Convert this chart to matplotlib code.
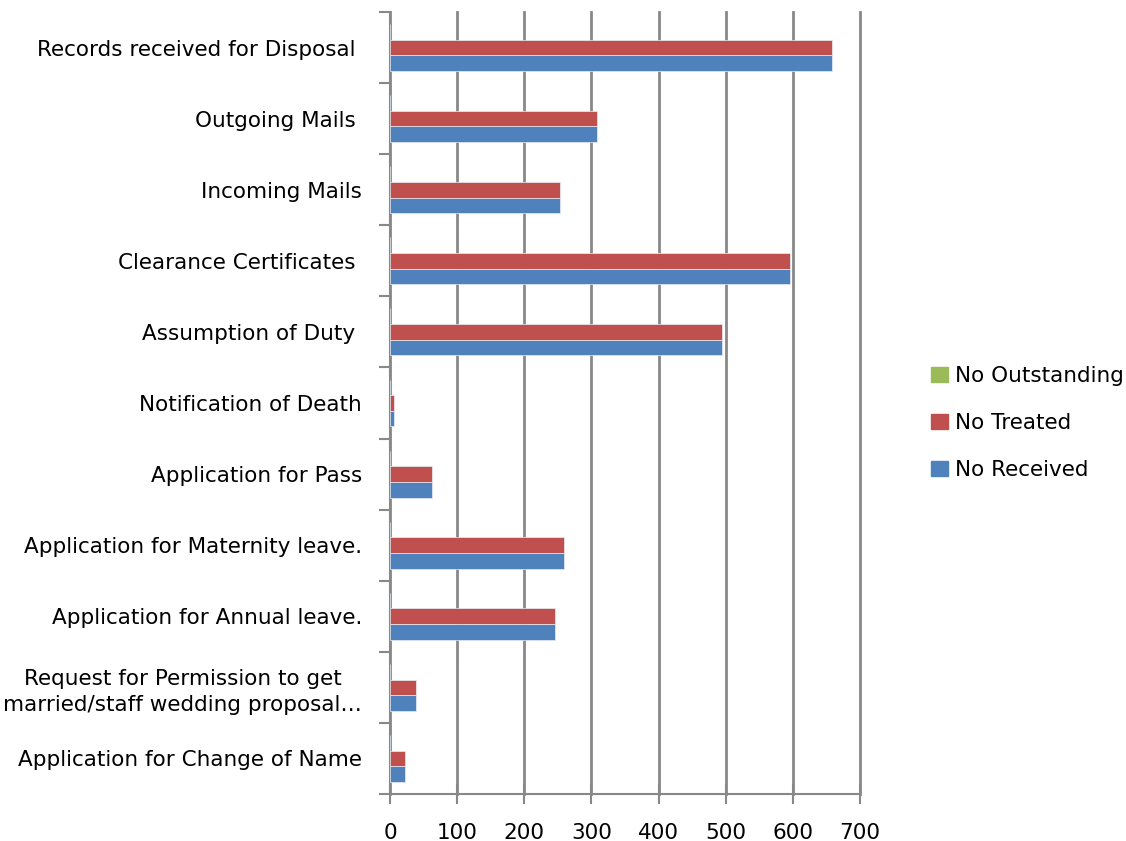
import numpy as np
import matplotlib as mpl
mpl.use('Agg')
import matplotlib.pyplot as plt
from matplotlib.patches import Patch

# categories listed bottom to top (as drawn on the y axis)
categories = [
    "Application for Change of Name",
    "Request for Permission to get\nmarried/staff wedding proposal\u2026",
    "Application for Annual leave.",
    "Application for Maternity leave.",
    "Application for Pass",
    "Notification of Death",
    "Assumption of Duty ",
    "Clearance Certificates ",
    "Incoming Mails",
    "Outgoing Mails ",
    "Records received for Disposal ",
]
no_received = [22, 38, 245, 259, 63, 6, 494, 596, 253, 309, 659]
no_treated = [22, 38, 245, 259, 63, 6, 494, 596, 253, 309, 659]
no_outstanding = [0, 0, 0, 0, 0, 0, 0, 0, 0, 0, 0]

series = [("No Received", no_received, "#4f81bd"),
          ("No Treated", no_treated, "#c0504d"),
          ("No Outstanding", no_outstanding, "#9bbb59")]

plt.rcParams['font.family'] = ['DejaVu Sans']
fs = 15.5

fig = plt.figure(figsize=(11.26, 8.41), dpi=100)
ax = fig.add_axes([390 / 1126, 1 - 794 / 841, 470 / 1126, 782 / 841])

y = np.arange(len(categories))
h = 0.22
for i, (name, vals, col) in enumerate(series):
    ax.barh(y + (i - 1) * h, vals, height=h, color=col,
            edgecolor='#e8eef6', linewidth=0.5, zorder=3)

ax.set_xlim(0, 700)
ax.set_ylim(-0.5, len(categories) - 0.5)
ax.set_xticks(range(0, 701, 100))
ax.tick_params(axis='x', direction='inout', length=14, width=1.5,
               color='#888888', labelsize=fs, pad=14)

ax.set_yticks(y)
ax.set_yticklabels(categories, fontsize=fs, multialignment='center',
                   linespacing=1.35)
ax.tick_params(axis='y', length=0, pad=20)
ax.set_yticks(np.arange(-0.5, len(categories), 1), minor=True)
ax.tick_params(axis='y', which='minor', length=8, width=1.5,
               color='#888888')

ax.grid(axis='x', color='#888888', linewidth=2, zorder=0)
for gl in ax.get_xgridlines():
    gl.set_clip_on(False)
for s in ['top', 'right']:
    ax.spines[s].set_visible(False)
for s in ['left', 'bottom']:
    ax.spines[s].set_color('#888888')
    ax.spines[s].set_linewidth(1.5)

handles = [Patch(color=c, label=n) for n, _, c in reversed(series)]
fig.legend(handles=handles, loc='center left',
           bbox_to_anchor=(912 / 1126, 1 - 423 / 841), frameon=False,
           fontsize=fs, handlelength=0.75, handleheight=0.75,
           handletextpad=0.35, labelspacing=1.25)

fig.savefig('out.png', dpi=100)
